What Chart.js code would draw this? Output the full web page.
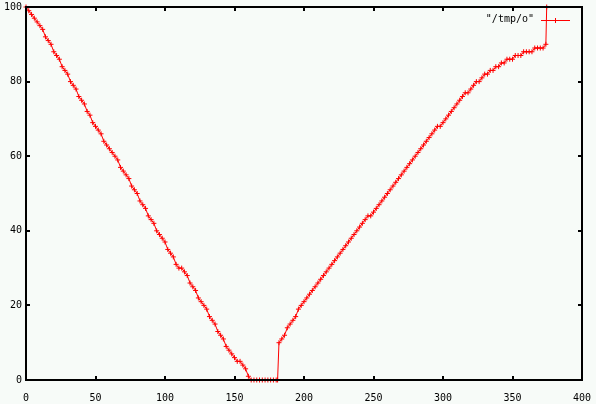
<!DOCTYPE html>
<html>
<head>
<meta charset="utf-8">
<script src="https://cdn.jsdelivr.net/npm/chart.js@4.4.1/dist/chart.umd.min.js"></script>
<style>
  html, body { margin: 0; padding: 0; background: #f7fbf8; }
  #wrap { width: 596px; height: 404px; }
</style>
</head>
<body>
<div id="wrap"><canvas id="lineChart"></canvas></div>
<script>
// series "/tmp/o"
const seriesLabel = '"/tmp/o"';
const xValues = [
  0, 2, 4, 6, 8, 10, 12, 14, 16, 18, 20, 22, 24, 26, 28, 30, 32, 34, 36, 38,
  40, 42, 44, 46, 48, 50, 52, 54, 56, 58, 60, 62, 64, 66, 68, 70, 72, 74, 76, 78,
  80, 82, 84, 86, 88, 90, 92, 94, 96, 98, 100, 102, 104, 106, 108, 110, 112, 114, 116, 118,
  120, 122, 124, 126, 128, 130, 132, 134, 136, 138, 140, 142, 144, 146, 148, 150, 152, 154, 156, 158,
  160, 162, 164, 166, 168, 170, 172, 174, 176, 178, 180, 181,
  182, 184, 186, 188, 190, 192, 194, 196, 198, 200, 202, 204, 206, 208, 210, 212, 214, 216, 218, 220,
  222, 224, 226, 228, 230, 232, 234, 236, 238, 240, 242, 244, 246, 248, 250, 252, 254, 256, 258, 260,
  262, 264, 266, 268, 270, 272, 274, 276, 278, 280, 282, 284, 286, 288, 290, 292, 294, 296, 298, 300,
  302, 304, 306, 308, 310, 312, 314, 316, 318, 320, 322, 324, 326, 328, 330, 332, 334, 336, 338, 340,
  342, 344, 346, 348, 350, 352, 354, 356, 358, 360, 362, 364, 366, 368, 370, 372, 374, 374.6
];
const yValues = [
  100, 99, 98, 97, 96, 95, 94, 92, 91, 90, 88, 87, 86, 84, 83, 82, 80, 79, 78, 76,
  75, 74, 72, 71, 69, 68, 67, 66, 64, 63, 62, 61, 60, 59, 57, 56, 55, 54, 52, 51,
  50, 48, 47, 46, 44, 43, 42, 40, 39, 38, 37, 35, 34, 33, 31, 30, 30, 29, 28, 26,
  25, 24, 22, 21, 20, 19, 17, 16, 15, 13, 12, 11, 9, 8, 7, 6, 5, 5, 4, 3,
  1, 0, 0, 0, 0, 0, 0, 0, 0, 0, 0, 0,
  10, 11, 12, 14, 15, 16, 17, 19, 20, 21, 22, 23, 24, 25, 26, 27, 28, 29, 30, 31,
  32, 33, 34, 35, 36, 37, 38, 39, 40, 41, 42, 43, 44, 44, 45, 46, 47, 48, 49, 50,
  51, 52, 53, 54, 55, 56, 57, 58, 59, 60, 61, 62, 63, 64, 65, 66, 67, 68, 68, 69,
  70, 71, 72, 73, 74, 75, 76, 77, 77, 78, 79, 80, 80, 81, 82, 82, 83, 83, 84, 84,
  85, 85, 86, 86, 86, 87, 87, 87, 88, 88, 88, 88, 89, 89, 89, 89, 90, 100
];
const xTicks = [0, 50, 100, 150, 200, 250, 300, 350, 400];
const yTicks = [0, 20, 40, 60, 80, 100];

const points = xValues.map((x, i) => ({ x: x, y: yValues[i] }));

// background, frame with inner ticks on all four sides, and the key
const gnuplotFrame = {
  id: 'gnuplotFrame',
  beforeDraw(chart) {
    const ctx = chart.ctx;
    ctx.save();
    ctx.fillStyle = '#f7fbf8';
    ctx.fillRect(0, 0, chart.width, chart.height);
    ctx.restore();
  },
  afterDraw(chart) {
    const ctx = chart.ctx;
    const a = chart.chartArea;
    const xs = chart.scales.x;
    const ys = chart.scales.y;
    ctx.save();
    ctx.strokeStyle = '#000';
    ctx.lineWidth = 2;
    ctx.strokeRect(a.left, a.top, a.right - a.left, a.bottom - a.top);
    ctx.beginPath();
    xTicks.forEach(v => {
      const px = Math.round(xs.getPixelForValue(v));
      ctx.moveTo(px, a.bottom); ctx.lineTo(px, a.bottom - 4);
      ctx.moveTo(px, a.top); ctx.lineTo(px, a.top + 4);
    });
    yTicks.forEach(v => {
      const py = Math.round(ys.getPixelForValue(v));
      ctx.moveTo(a.left, py); ctx.lineTo(a.left + 4, py);
      ctx.moveTo(a.right, py); ctx.lineTo(a.right - 4, py);
    });
    ctx.stroke();

    // key
    const ds = chart.data.datasets[0];
    ctx.font = '10px "DejaVu Sans Mono"';
    ctx.fillStyle = '#000';
    ctx.textAlign = 'right';
    ctx.textBaseline = 'middle';
    ctx.fillText(ds.label, 534, 19);
    ctx.strokeStyle = ds.borderColor;
    ctx.lineWidth = 1;
    ctx.beginPath();
    ctx.moveTo(541, 20.5); ctx.lineTo(570, 20.5);
    ctx.moveTo(555.5, 18); ctx.lineTo(555.5, 23);
    ctx.stroke();
    ctx.restore();
  }
};

new Chart(document.getElementById('lineChart').getContext('2d'), {
  type: 'line',
  data: {
    datasets: [{
      label: seriesLabel,
      data: points,
      borderColor: '#ff0000',
      backgroundColor: '#ff0000',
      borderWidth: 1,
      tension: 0,
      pointStyle: 'cross',
      pointRadius: 2.5,
      pointBorderWidth: 1,
      clip: false
    }]
  },
  options: {
    responsive: true,
    maintainAspectRatio: false,
    animation: false,
    layout: {
      padding: { top: 7, right: 14, bottom: 0, left: 4 }
    },
    plugins: {
      legend: { display: false },
      tooltip: { enabled: false }
    },
    scales: {
      x: {
        type: 'linear',
        min: 0,
        max: 400,
        afterBuildTicks: scale => { scale.ticks = xTicks.map(v => ({ value: v })); },
        afterFit: scale => { scale.height = 24; scale.paddingLeft = 0; scale.paddingRight = 0; },
        grid: { display: false, drawTicks: false },
        border: { display: false },
        ticks: {
          color: '#000',
          padding: 12,
          maxRotation: 0,
          font: { family: 'DejaVu Sans Mono', size: 10 }
        }
      },
      y: {
        min: 0,
        max: 100,
        afterBuildTicks: scale => { scale.ticks = yTicks.map(v => ({ value: v })); },
        afterFit: scale => { scale.width = 22; scale.paddingTop = 0; scale.paddingBottom = 0; },
        grid: { display: false, drawTicks: false },
        border: { display: false },
        ticks: {
          color: '#000',
          padding: 4,
          font: { family: 'DejaVu Sans Mono', size: 10 }
        }
      }
    }
  },
  plugins: [gnuplotFrame]
});
</script>
</body>
</html>
